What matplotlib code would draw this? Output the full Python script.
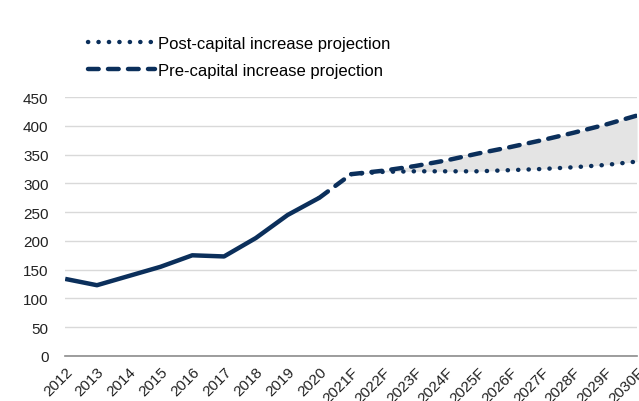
import numpy as np
import matplotlib.pyplot as plt

plt.rcParams['font.family'] = ['Liberation Sans', 'DejaVu Sans']

years = ['2012', '2013', '2014', '2015', '2016', '2017', '2018', '2019', '2020',
         '2021F', '2022F', '2023F', '2024F', '2025F', '2026F', '2027F', '2028F',
         '2029F', '2030F']
actual = [134, 123, 139, 155, 175, 173, 205, 245, 275]
# projections start at 2021F
post_capital = [316, 320, 321, 321, 321, 323, 325, 328, 332, 338]
pre_capital = [316, 322, 330, 340, 352, 363, 375, 388, 402, 418]

navy = '#0b2f5b'
x = np.arange(len(years))
n_act = len(actual)

fig = plt.figure(figsize=(6.39, 4.02), dpi=100)
ax = fig.add_axes([0.102, 0.112, 0.895, 0.644])

xp = x[n_act:]
ax.fill_between(xp, post_capital, pre_capital, color='#e4e4e4', lw=0, zorder=1)

ax.plot(x[:n_act], actual, color=navy, lw=3.2, solid_capstyle='butt', zorder=3)
ax.plot(x[n_act - 1:], [actual[-1]] + pre_capital, color=navy, lw=3.2,
        linestyle=(0, (2.4, 2.1)), dash_capstyle='round', zorder=3,
        label='Pre-capital increase projection')
ax.plot(xp, post_capital, color=navy, lw=3.2, linestyle=(0, (0.05, 2.3)),
        dash_capstyle='round', zorder=3, label='Post-capital increase projection')

ax.set_xlim(0, len(years) - 1)
ax.set_ylim(0, 450)
ax.set_yticks(np.arange(0, 451, 50))
ax.set_xticks(x)
ax.set_xticklabels(years, rotation=45, ha='right', rotation_mode='anchor')
ax.tick_params(length=0, labelsize=11, colors='#222222')
ax.tick_params(axis='x', pad=6)
ax.tick_params(axis='y', pad=12)
ax.grid(axis='y', color='#d9d9d9', lw=1)
ax.set_axisbelow(True)
for s in ['top', 'right', 'left']:
    ax.spines[s].set_visible(False)
ax.spines['bottom'].set_color('#8c8c8c')
ax.spines['bottom'].set_linewidth(1.2)

h, l = ax.get_legend_handles_labels()
fig.legend(h[::-1], l[::-1], loc='upper left', bbox_to_anchor=(0.114, 0.945),
           frameon=False, fontsize=12, handlelength=4.0, handletextpad=0.2,
           labelspacing=0.72)

fig.savefig('out.png', dpi=100)
